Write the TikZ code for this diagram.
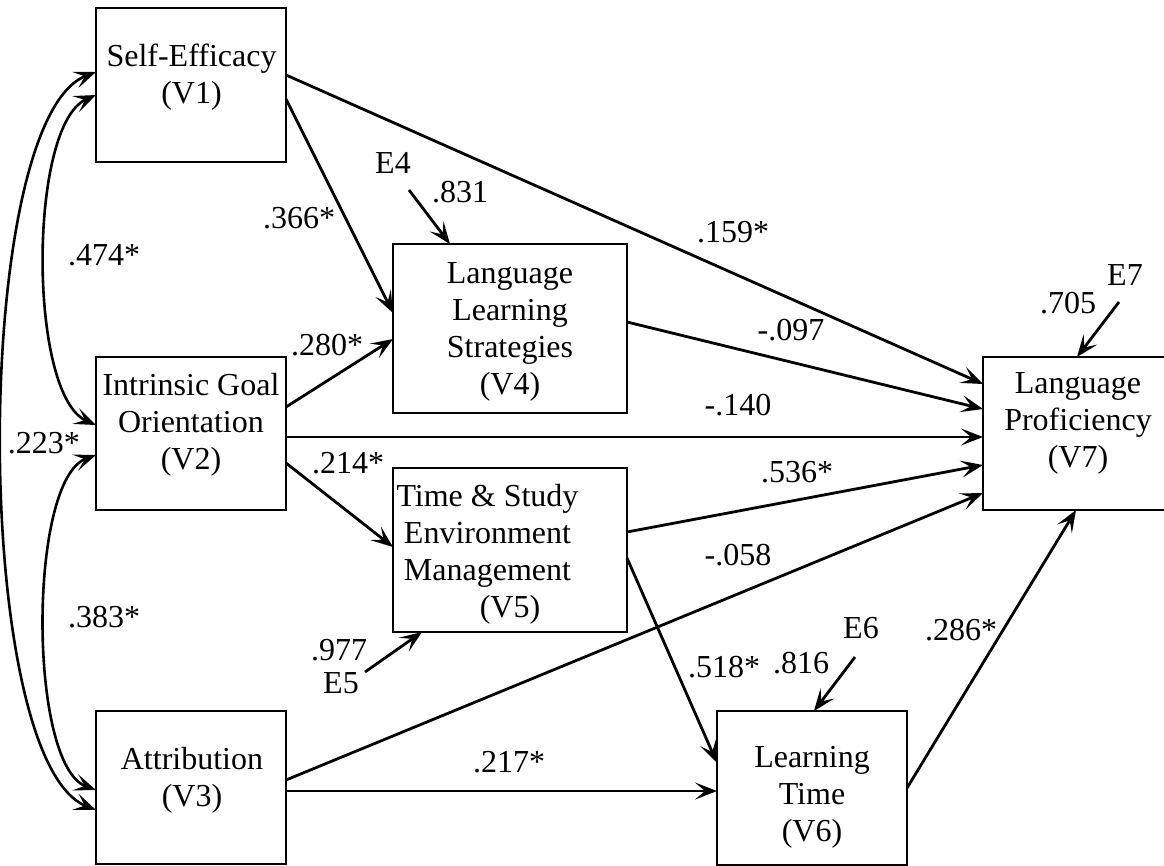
\documentclass[tikz,border=0pt]{standalone}
\usepackage{fontspec}
\setmainfont{Liberation Serif}
\usetikzlibrary{arrows.meta}
\begin{document}
\begin{tikzpicture}[x=1pt,y=-1pt,
  font=\fontsize{32}{37}\selectfont,
  box/.style={draw, line width=1.9pt, inner sep=0pt, outer sep=0pt},
  txt/.style={align=center, inner sep=0pt},
  lbl/.style={inner sep=0pt},
  tip/.tip={Stealth[length=22pt,width=17pt,inset=10pt]},
  conn/.style={line width=2.8pt, -tip},
  corr/.style={line width=2.6pt, tip-tip}
]
\useasboundingbox (0,0) rectangle (1164,865);

% boxes
\node[box, minimum width=190pt, minimum height=154pt] (v1) at (191,85) {};
\node[box, minimum width=190pt, minimum height=153pt] (v2) at (191,433.5) {};
\node[box, minimum width=190pt, minimum height=153pt] (v3) at (191,787.5) {};
\node[box, minimum width=234pt, minimum height=169pt] (v4) at (510,328.5) {};
\node[box, minimum width=234pt, minimum height=164pt] (v5) at (510,550) {};
\node[box, minimum width=190pt, minimum height=154pt] (v6) at (812,788) {};
\node[box, minimum width=190pt, minimum height=153pt] (v7) at (1078,433.5) {};

% box texts
\node[txt] (t1) at (191.5,77.6) {Self-Efficacy\\(V1)};
\node[txt] (t2) at (191,424.7) {Intrinsic Goal\\Orientation\\(V2)};
\node[txt] (t3) at (192,780) {Attribution\\(V3)};
\node[txt] (t4) at (510,331.7) {Language\\Learning\\Strategies\\(V4)};
\node[txt] (t5) at (487.5,554.4) {Time \& Study\\Environment\\Management\\\hspace*{45pt}(V5)};
\node[txt] (t6) at (812,797) {Learning\\Time\\(V6)};
\node[txt] (t7) at (1078,423.8) {Language\\Proficiency\\(V7)};

% error terms
\node[lbl] (e4) at (393,163) {E4};
\node[lbl] (e5) at (341,683) {E5};
\node[lbl] (e6) at (861,628) {E6};
\node[lbl] (e7) at (1125,275) {E7};
\coordinate (e4s) at (409,190);
\coordinate (e5s) at (365,672);
\coordinate (e6s) at (855,657);
\coordinate (e7s) at (1119,302);

% correlations
\draw[corr] ([yshift=13pt]v1.west) .. controls +(-125,48) and +(-125,-50) .. ([yshift=-22.5pt]v3.west);
\draw[corr] ([yshift=-10pt]v1.west) .. controls +(-68,30) and +(-68,-30) .. ([yshift=8.5pt]v2.west);
\draw[corr] ([yshift=-21.5pt]v2.west) .. controls +(-68,25) and +(-68,-25) .. ([yshift=-2.5pt]v3.west);

% paths
\draw[conn] ([yshift=10pt]v1.east) -- ([yshift=49.5pt]v7.west);
\draw[conn] ([yshift=-14pt]v1.east) -- ([yshift=15.5pt]v4.west);
\draw[conn] ([yshift=26.5pt]v2.east) -- ([yshift=-10.5pt]v4.west);
\draw[conn] ([yshift=-3.5pt]v2.east) -- ([yshift=-3.5pt]v7.west);
\draw[conn] ([yshift=-29.5pt]v2.east) -- ([yshift=3pt]v5.west);
\draw[conn] ([yshift=6.5pt]v4.east) -- ([yshift=24.5pt]v7.west);
\draw[conn] ([yshift=18pt]v5.east) -- ([yshift=-31.5pt]v7.west);
\draw[conn] ([yshift=7.5pt]v3.east) -- ([yshift=-59.5pt]v7.west);
\draw[conn] ([yshift=-8pt]v5.east) -- ([yshift=25pt]v6.west);
\draw[conn] ([yshift=-3.5pt]v3.east) -- ([yshift=-3pt]v6.west);
\draw[conn] (v6.east) -- ([xshift=-2pt]v7.south);
\draw[conn] (e4s) -- ([xshift=-60pt]v4.north);
\draw[conn] (e5s) -- ([xshift=-88pt]v5.south);
\draw[conn] (e6s) -- ([xshift=2pt]v6.north);
\draw[conn] (e7s) -- ([xshift=-1pt]v7.north);

% labels
\node[lbl] (l17) at (733,232) {.159*};
\node[lbl] (l47) at (791,330) {-.097};
\node[lbl] (l14) at (299,218) {.366*};
\node[lbl] (l24) at (327,345) {.280*};
\node[lbl] (l27) at (738,405) {-.140};
\node[lbl] (l25) at (348,463) {.214*};
\node[lbl] (l57) at (797,472) {.536*};
\node[lbl] (l37) at (738,555) {-.058};
\node[lbl] (l56) at (724,667) {.518*};
\node[lbl] (le6) at (801,663) {.816};
\node[lbl] (l67) at (961,630) {.286*};
\node[lbl] (l36) at (509,762) {.217*};
\node[lbl] (le4) at (460,192) {.831};
\node[lbl] (le5) at (339,650) {.977};
\node[lbl] (le7) at (1068,303) {.705};
\node[lbl] (c12) at (104,255) {.474*};
\node[lbl] (c13) at (44,443) {.223*};
\node[lbl] (c23) at (104,617) {.383*};
\end{tikzpicture}
\end{document}
